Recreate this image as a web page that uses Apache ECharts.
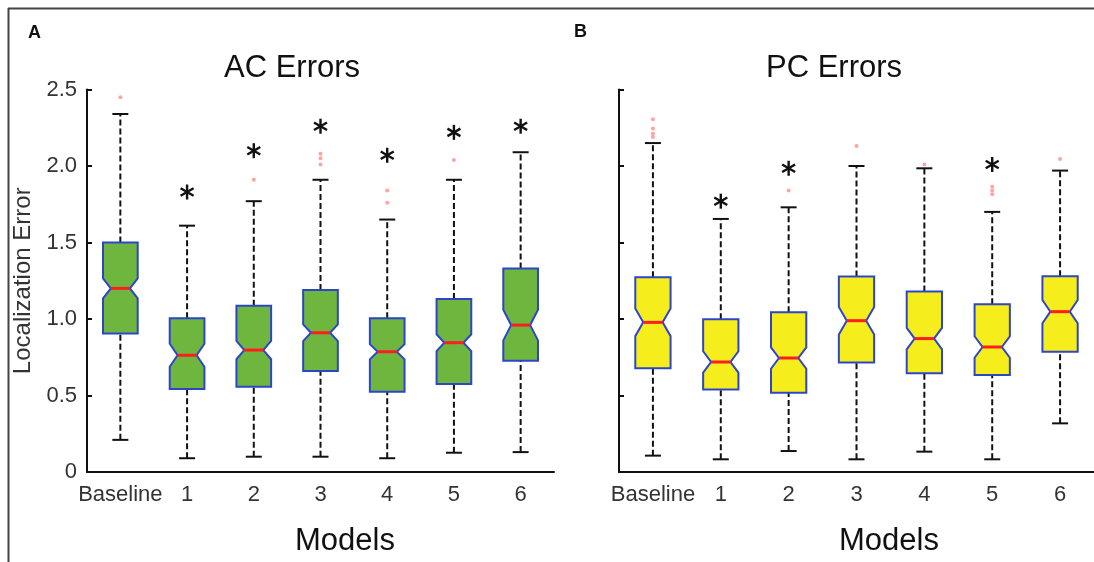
<!DOCTYPE html>
<html>
<head>
<meta charset="utf-8">
<script src="https://cdn.jsdelivr.net/npm/echarts@6/dist/echarts.min.js"></script>
<style>
html, body { margin: 0; padding: 0; background: #fff; }
#chart { width: 1094px; height: 562px; }
</style>
</head>
<body>
<div id="chart"></div>
<script>
// categories on the x axis
var categories = ['Baseline', '1', '2', '3', '4', '5', '6'];

// AC errors (panel A)
var acLow    = [0.21, 0.09, 0.10, 0.10, 0.09, 0.126, 0.13];
var acQ1     = [0.906, 0.542, 0.558, 0.66, 0.525, 0.575, 0.727];
var acMedian = [1.20, 0.763, 0.797, 0.91, 0.786, 0.845, 0.96];
var acQ3     = [1.50, 1.005, 1.087, 1.19, 1.005, 1.13, 1.33];
var acHigh   = [2.34, 1.61, 1.77, 1.91, 1.65, 1.91, 2.09];
var acNotch  = [0.065, 0.075, 0.06, 0.055, 0.05, 0.055, 0.10];
var acOutliers = [[2.45], [], [1.91], [2.01, 2.05, 2.08], [1.76, 1.84], [2.04], []];
var acStars  = [null, 1.83, 2.10, 2.26, 2.07, 2.22, 2.26];

// PC errors (panel B)
var pcLow    = [0.107, 0.083, 0.137, 0.083, 0.133, 0.083, 0.318];
var pcQ1     = [0.678, 0.54, 0.518, 0.715, 0.645, 0.634, 0.786];
var pcMedian = [0.978, 0.719, 0.745, 0.989, 0.872, 0.817, 1.048];
var pcQ3     = [1.273, 0.998, 1.044, 1.277, 1.18, 1.096, 1.28];
var pcHigh   = [2.15, 1.654, 1.73, 2.00, 1.985, 1.70, 1.97];
var pcNotch  = [0.09, 0.07, 0.07, 0.09, 0.07, 0.07, 0.076];
var pcOutliers = [[2.19, 2.21, 2.245, 2.305], [], [1.84], [2.13], [2.01], [1.815, 1.84, 1.865], [2.045]];
var pcStars  = [null, 1.77, 1.985, null, null, 2.01, null];

var FONT = '"Liberation Sans", Arial, Helvetica, sans-serif';

function boxData(low, q1, med, q3, high, notch) {
	var out = [];
	for (var i = 0; i < categories.length; i++) {
		out.push([i, low[i], q1[i], med[i], q3[i], high[i], notch[i]]);
	}
	return out;
}
function outlierData(list) {
	var out = [];
	for (var i = 0; i < list.length; i++) {
		for (var j = 0; j < list[i].length; j++) out.push([i, list[i][j]]);
	}
	return out;
}
function starData(list) {
	var out = [];
	for (var i = 0; i < list.length; i++) {
		if (list[i] != null) out.push([i, list[i]]);
	}
	return out;
}

// notched box drawn like matlab's boxplot
function renderBox(fill) {
	return function (params, api) {
		var x = api.value(0);
		var lo = api.value(1), q1 = api.value(2), med = api.value(3);
		var q3 = api.value(4), hi = api.value(5), n = api.value(6);
		var cx = api.coord([x, med])[0];
		var yLo = api.coord([x, lo])[1];
		var yQ1 = api.coord([x, q1])[1];
		var yMed = api.coord([x, med])[1];
		var yQ3 = api.coord([x, q3])[1];
		var yHi = api.coord([x, hi])[1];
		var yN1 = api.coord([x, med + n])[1];
		var yN2 = api.coord([x, med - n])[1];
		var band = api.size([1, 0])[0];
		var hw = band * 0.26;
		var nw = hw * 0.55;
		var cap = 8;
		var dash = { stroke: '#111', lineWidth: 2, lineDash: [6, 3] };
		var solid = { stroke: '#111', lineWidth: 2 };
		return {
			type: 'group',
			children: [
				{ type: 'line', shape: { x1: cx, y1: yQ3, x2: cx, y2: yHi }, style: dash },
				{ type: 'line', shape: { x1: cx, y1: yLo, x2: cx, y2: yQ1 }, style: dash },
				{ type: 'line', shape: { x1: cx - cap, y1: yHi, x2: cx + cap, y2: yHi }, style: solid },
				{ type: 'line', shape: { x1: cx - cap, y1: yLo, x2: cx + cap, y2: yLo }, style: solid },
				{
					type: 'polygon',
					shape: { points: [
						[cx - hw, yQ3], [cx + hw, yQ3], [cx + hw, yN1], [cx + nw, yMed],
						[cx + hw, yN2], [cx + hw, yQ1], [cx - hw, yQ1], [cx - hw, yN2],
						[cx - nw, yMed], [cx - hw, yN1]
					] },
					style: { fill: fill, stroke: '#2d46c8', lineWidth: 2 }
				},
				{ type: 'line', shape: { x1: cx - nw, y1: yMed, x2: cx + nw, y2: yMed }, style: { stroke: '#ff1e1e', lineWidth: 3 } }
			]
		};
	};
}

// significance asterisk
function renderStar(params, api) {
	var p = api.coord([api.value(0), api.value(1)]);
	var r = 7.5, kids = [];
	var angles = [90, 30, 150];
	for (var k = 0; k < angles.length; k++) {
		var a = angles[k] * Math.PI / 180;
		kids.push({
			type: 'line',
			shape: { x1: p[0] - r * Math.cos(a), y1: p[1] - r * Math.sin(a), x2: p[0] + r * Math.cos(a), y2: p[1] + r * Math.sin(a) },
			style: { stroke: '#111', lineWidth: 2.4 }
		});
	}
	return { type: 'group', children: kids };
}

function xAxisOf(gridIndex) {
	return {
		type: 'category',
		gridIndex: gridIndex,
		data: categories,
		boundaryGap: true,
		axisLine: { lineStyle: { color: '#111', width: 2 } },
		axisTick: { inside: true, length: 5, alignWithLabel: true, interval: 0, lineStyle: { color: '#111', width: 2 } },
		axisLabel: { interval: 0, fontSize: 22, color: '#333', fontFamily: FONT, margin: 12 },
		splitLine: { show: false }
	};
}
function yAxisOf(gridIndex, showLabels) {
	return {
		type: 'value',
		gridIndex: gridIndex,
		min: 0,
		max: 2.5,
		interval: 0.5,
		axisLine: { show: true, lineStyle: { color: '#111', width: 2 } },
		axisTick: { show: true, inside: true, length: 5, lineStyle: { color: '#111', width: 2 } },
		axisLabel: {
			show: showLabels, fontSize: 22, color: '#333', fontFamily: FONT, margin: 10,
			formatter: function (v) { return v === 0 ? '0' : v.toFixed(1); }
		},
		splitLine: { show: false }
	};
}

var myChart = echarts.init(document.getElementById('chart'));
var option = {
	backgroundColor: '#fff',
	animation: false,
	grid: [
		{ left: 87, right: 540, top: 89.5, bottom: 90 },
		{ left: 619, right: -16, top: 89.5, bottom: 90 }
	],
	xAxis: [xAxisOf(0), xAxisOf(1)],
	yAxis: [
		Object.assign(yAxisOf(0, true), {
			name: 'Localization Error', nameLocation: 'middle', nameGap: 52, nameRotate: 90,
			nameTextStyle: { fontSize: 24, color: '#333', fontFamily: FONT }
		}),
		yAxisOf(1, false)
	],
	series: [
		{
			type: 'custom', xAxisIndex: 0, yAxisIndex: 0,
			renderItem: renderBox('#6fb63e'),
			encode: { x: 0, y: [1, 2, 3, 4, 5] },
			data: boxData(acLow, acQ1, acMedian, acQ3, acHigh, acNotch)
		},
		{
			type: 'custom', xAxisIndex: 1, yAxisIndex: 1,
			renderItem: renderBox('#f6ee1c'),
			encode: { x: 0, y: [1, 2, 3, 4, 5] },
			data: boxData(pcLow, pcQ1, pcMedian, pcQ3, pcHigh, pcNotch)
		},
		{
			type: 'scatter', xAxisIndex: 0, yAxisIndex: 0, symbolSize: 4,
			itemStyle: { color: '#ff8c8c' },
			data: outlierData(acOutliers)
		},
		{
			type: 'scatter', xAxisIndex: 1, yAxisIndex: 1, symbolSize: 4,
			itemStyle: { color: '#ff8c8c' },
			data: outlierData(pcOutliers)
		},
		{
			type: 'custom', xAxisIndex: 0, yAxisIndex: 0,
			renderItem: renderStar, data: starData(acStars)
		},
		{
			type: 'custom', xAxisIndex: 1, yAxisIndex: 1,
			renderItem: renderStar, data: starData(pcStars)
		}
	],
	graphic: [
		// outer frame
		{ type: 'line', shape: { x1: 8, y1: 8.5, x2: 1094, y2: 8.5 }, style: { stroke: '#444', lineWidth: 2 } },
		{ type: 'line', shape: { x1: 8.5, y1: 8, x2: 8.5, y2: 562 }, style: { stroke: '#444', lineWidth: 2 } },
		// panel letters
		{ type: 'text', left: 28, top: 24, style: { text: 'A', font: 'bold 18px ' + FONT, fill: '#111' } },
		{ type: 'text', left: 574, top: 23, style: { text: 'B', font: 'bold 18px ' + FONT, fill: '#111' } },
		// titles
		{ type: 'text', x: 292, y: 68, style: { text: 'AC Errors', font: '31px ' + FONT, fill: '#111', align: 'center', verticalAlign: 'middle' } },
		{ type: 'text', x: 834, y: 68, style: { text: 'PC Errors', font: '31px ' + FONT, fill: '#111', align: 'center', verticalAlign: 'middle' } },
		{ type: 'text', x: 345, y: 541, style: { text: 'Models', font: '31px ' + FONT, fill: '#111', align: 'center', verticalAlign: 'middle' } },
		{ type: 'text', x: 889, y: 541, style: { text: 'Models', font: '31px ' + FONT, fill: '#111', align: 'center', verticalAlign: 'middle' } }
	]
};
myChart.setOption(option, true);
</script>
</body>
</html>
